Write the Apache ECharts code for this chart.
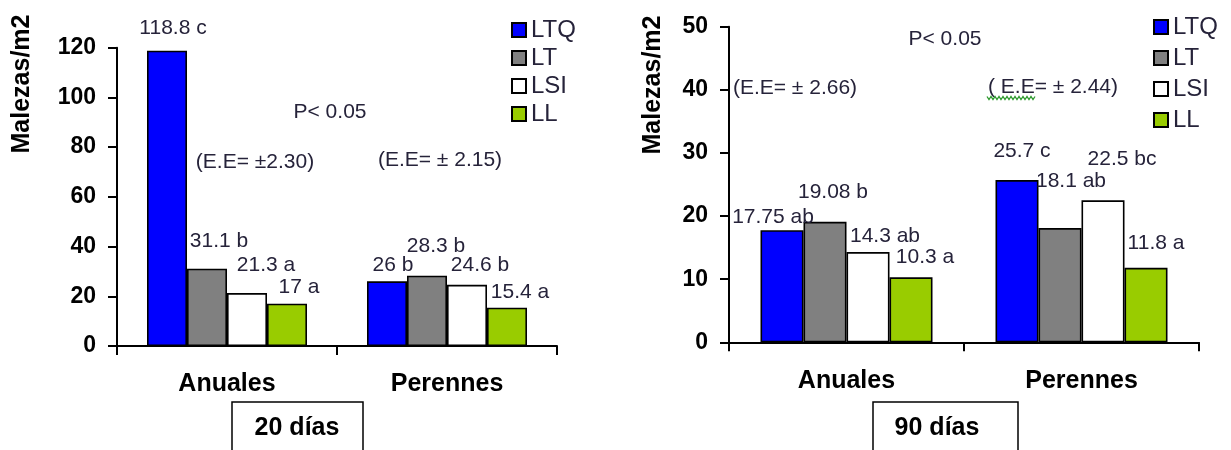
<!DOCTYPE html>
<html>
<head>
<meta charset="utf-8">
<script src="https://cdn.jsdelivr.net/npm/echarts@6/dist/echarts.min.js"></script>
<style>
html,body{margin:0;padding:0;background:#fff;}
#chart{width:1231px;height:450px;}
</style>
</head>
<body>
<div id="chart"></div>
<script>
// ---- data ----
const categories = ['Anuales', 'Perennes'];
const seriesNames = ['LTQ', 'LT', 'LSI', 'LL'];

// 20 días
const ltq20 = [118.8, 26];
const lt20 = [31.1, 28.3];
const lsi20 = [21.3, 24.6];
const ll20 = [17, 15.4];
const ltq20Sig = ['c', 'b'];
const lt20Sig = ['b', 'b'];
const lsi20Sig = ['a', 'b'];
const ll20Sig = ['a', 'a'];

// 90 días
const ltq90 = [17.75, 25.7];
const lt90 = [19.08, 18.1];
const lsi90 = [14.3, 22.5];
const ll90 = [10.3, 11.8];
const ltq90Sig = ['ab', 'c'];
const lt90Sig = ['b', 'ab'];
const lsi90Sig = ['ab', 'bc'];
const ll90Sig = ['a', 'a'];

const yMax20 = 120, yStep20 = 20;
const yMax90 = 50, yStep90 = 10;

// ---- styles ----
const colors = ['#0000FF', '#808080', '#FFFFFF', '#99CC00'];
const txt = '#26233a';
const FONT = 'Liberation Sans, Arial, sans-serif';

// label offsets [dx, dy] per series, per category (pure styling)
const off20 = [
  [[6, -7], [6, -1]],
  [[12, -12], [9, -14]],
  [[19, -12.5], [13, -4]],
  [[12, -1], [13, 0]]
];
const off90 = [
  [[-9, 2], [5, -13]],
  [[8, -14], [11, -31]],
  [[17, 0], [19, -25.5]],
  [[14, -5], [10, -9]]
];

const vals20 = [ltq20, lt20, lsi20, ll20];
const sig20 = [ltq20Sig, lt20Sig, lsi20Sig, ll20Sig];
const vals90 = [ltq90, lt90, lsi90, ll90];
const sig90 = [ltq90Sig, lt90Sig, lsi90Sig, ll90Sig];

function makeSeries(vals, sigs, offs, axisIdx, barW) {
  return seriesNames.map((name, i) => ({
    name: name,
    type: 'bar',
    xAxisIndex: axisIdx,
    yAxisIndex: axisIdx,
    barWidth: barW,
    barGap: '0%',
    itemStyle: { color: colors[i], borderColor: '#000', borderWidth: 1.6 },
    label: {
      show: true,
      position: 'top',
      distance: 5,
      fontFamily: FONT,
      fontSize: 21,
      color: txt,
      formatter: p => p.value + ' ' + sigs[i][p.dataIndex]
    },
    data: vals[i].map((v, j) => ({ value: v, label: { offset: offs[i][j] } })),
    animation: false
  }));
}

function xAxis(gridIndex) {
  return {
    type: 'category',
    gridIndex: gridIndex,
    data: categories,
    boundaryGap: true,
    axisLine: { lineStyle: { color: '#000', width: 2 } },
    axisTick: { show: true, length: 9, alignWithLabel: false, lineStyle: { color: '#000', width: 2 } },
    axisLabel: { fontFamily: FONT, fontSize: 25, fontWeight: 'bold', color: '#000', margin: 26 }
  };
}
function yAxis(gridIndex, max, step) {
  return {
    type: 'value',
    gridIndex: gridIndex,
    min: 0, max: max, interval: step,
    splitLine: { show: false },
    axisLine: { show: true, lineStyle: { color: '#000', width: 2 } },
    axisTick: { show: true, length: 9, lineStyle: { color: '#000', width: 2 } },
    axisLabel: { fontFamily: FONT, fontSize: 23, fontWeight: 'bold', color: '#000', margin: 21 }
  };
}

function note(x, y, text, size, bold, rot) {
  return {
    type: 'text', x: x, y: y, rotation: rot || 0,
    style: {
      text: text, fill: bold ? '#000' : txt,
      font: (bold ? 'bold ' : '') + size + 'px ' + FONT,
      align: 'center', verticalAlign: 'middle'
    }
  };
}

const squiggle = [];
for (let k = 0; k <= 24; k++) squiggle.push([987 + k * 2, k % 2 ? 99.5 : 96.5]);

const chart = echarts.init(document.getElementById('chart'));
chart.setOption({
  backgroundColor: '#fff',
  animation: false,
  grid: [
    { left: 117, top: 47.7, width: 440, height: 298.3 },
    { left: 729, top: 26.7, width: 470, height: 315.6 }
  ],
  xAxis: [xAxis(0), xAxis(1)],
  yAxis: [yAxis(0, yMax20, yStep20), yAxis(1, yMax90, yStep90)],
  legend: [
    {
      orient: 'vertical', left: 511, top: 18, padding: 0,
      itemWidth: 14, itemHeight: 14, itemGap: 4, icon: 'rect',
      textStyle: { fontFamily: FONT, fontSize: 24, lineHeight: 24, color: txt },
      data: seriesNames
    },
    {
      orient: 'vertical', left: 1153, top: 15, padding: 0,
      itemWidth: 14, itemHeight: 14, itemGap: 7, icon: 'rect',
      textStyle: { fontFamily: FONT, fontSize: 24, lineHeight: 24, color: txt },
      data: seriesNames
    }
  ],
  series: makeSeries(vals20, sig20, off20, 0, 40).concat(makeSeries(vals90, sig90, off90, 1, 43)),
  graphic: [
    note(22, 84, 'Malezas/m2', 25, true, Math.PI / 2),
    note(653, 85, 'Malezas/m2', 25, true, Math.PI / 2),
    note(330, 112, 'P< 0.05', 21, false),
    note(255, 162, '(E.E= ±2.30)', 21, false),
    note(440, 160, '(E.E= ± 2.15)', 21, false),
    note(945, 39, 'P< 0.05', 21, false),
    note(795, 88, '(E.E= ± 2.66)', 21, false),
    note(1053, 87, '( E.E= ± 2.44)', 21, false),
    {
      type: 'polyline',
      shape: { points: squiggle },
      style: { stroke: '#2f9a2f', lineWidth: 1.3, fill: null }
    },
    {
      type: 'rect', shape: { x: 232, y: 402, width: 131, height: 60 },
      style: { fill: '#fff', stroke: '#000', lineWidth: 1.5 }
    },
    note(297, 428, '20 días', 25, true),
    {
      type: 'rect', shape: { x: 873, y: 402, width: 145, height: 60 },
      style: { fill: '#fff', stroke: '#000', lineWidth: 1.5 }
    },
    note(937, 428, '90 días', 25, true)
  ]
});
</script>
</body>
</html>
